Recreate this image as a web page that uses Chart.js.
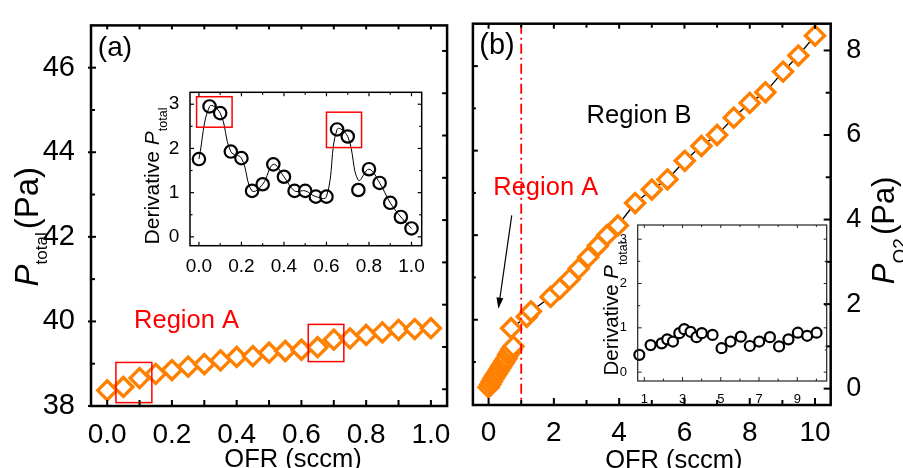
<!DOCTYPE html>
<html>
<head>
<meta charset="utf-8">
<script src="https://cdn.jsdelivr.net/npm/chart.js@4.4.1/dist/chart.umd.min.js"></script>
<style>
  html, body { margin: 0; padding: 0; background: #fff; overflow: hidden; }
  #wrap { position: relative; width: 903px; height: 468px; }
  canvas { position: absolute; }
</style>
</head>
<body>
<div id="wrap">
  <canvas id="mainA" width="460" height="468" style="left:0;top:0"></canvas>
  <canvas id="mainB" width="443" height="468" style="left:460px;top:0"></canvas>
  <canvas id="insetA" width="310" height="200" style="left:130px;top:75px"></canvas>
  <canvas id="insetB" width="260" height="200" style="left:590px;top:205px"></canvas>
</div>
<script>
// panel (a): total pressure, 0-1 sccm
const ofrA = [0, 0.05, 0.1, 0.15, 0.2, 0.25, 0.3, 0.35, 0.4, 0.45, 0.5, 0.55, 0.6, 0.65, 0.7, 0.75, 0.8, 0.85, 0.9, 0.95, 1.0];
const pTotalA = [38.37, 38.45, 38.66, 38.76, 38.85, 38.93, 38.99, 39.08, 39.16, 39.18, 39.26, 39.30, 39.33, 39.39, 39.57, 39.60, 39.68, 39.74, 39.80, 39.82, 39.84];

// inset (a): derivative of P_total (points + smoothed guide line)
const derivA = [1.76, 2.95, 2.80, 1.93, 1.78, 1.04, 1.19, 1.64, 1.36, 1.04, 1.04, 0.91, 0.91, 2.43, 2.27, 1.06, 1.53, 1.22, 0.77, 0.45, 0.19];
const derivCurveA = [1.76, 2.95, 2.80, 1.93, 1.78, 1.04, 1.19, 1.64, 1.36, 1.04, 1.04, 0.91, 0.91, 2.43, 2.27, 1.28, 1.53, 1.22, 0.77, 0.45, 0.19];

// panel (b): O2 partial pressure, 0-10 sccm
const ofrB = [0, 0.05, 0.1, 0.15, 0.2, 0.25, 0.3, 0.35, 0.4, 0.45, 0.5, 0.55, 0.6, 0.65, 0.7, 0.76, 0.69, 1.17, 1.3, 1.9, 2.18, 2.48, 2.76, 3.05, 3.35, 3.63, 3.96, 4.49, 5.0, 5.48, 6.01, 6.52, 7.0, 7.51, 8.0, 8.48, 9.02, 9.49, 10.0];
const pO2B = [0.03, 0.10, 0.17, 0.24, 0.30, 0.36, 0.42, 0.48, 0.54, 0.60, 0.66, 0.72, 0.80, 0.86, 0.93, 1.00, 1.43, 1.70, 1.83, 2.17, 2.36, 2.59, 2.84, 3.11, 3.38, 3.63, 3.86, 4.39, 4.71, 4.95, 5.39, 5.74, 6.00, 6.41, 6.76, 7.01, 7.50, 7.88, 8.35];

// inset (b): derivative in region B
const ofrInsetB = [0.74, 1.33, 1.91, 2.2, 2.5, 2.83, 3.09, 3.42, 3.73, 4.01, 4.57, 5.04, 5.51, 6.05, 6.52, 7.01, 7.57, 8.05, 8.54, 9.03, 9.52, 10.01];
const derivB = [0.39, 0.61, 0.65, 0.74, 0.69, 0.88, 0.97, 0.91, 0.79, 0.88, 0.84, 0.54, 0.69, 0.80, 0.59, 0.69, 0.79, 0.58, 0.74, 0.89, 0.82, 0.89];

// ticks and labels
const xTicksA = [0, 0.1, 0.2, 0.3, 0.4, 0.5, 0.6, 0.7, 0.8, 0.9, 1.0];
const xLabelsA = [0, 0.2, 0.4, 0.6, 0.8, 1.0];
const yTicksA = [38, 39, 40, 41, 42, 43, 44, 45, 46];
const yLabelsA = [38, 40, 42, 44, 46];
const yRightTicksA = [38, 39, 40, 41, 42, 43, 44, 45, 46];
const yTicksInset = [0, 0.5, 1, 1.5, 2, 2.5, 3];
const yLabelsInset = [0, 1, 2, 3];
const xTicksB = [0, 1, 2, 3, 4, 5, 6, 7, 8, 9, 10];
const xLabelsB = [0, 2, 4, 6, 8, 10];
const yTicksB = [0, 1, 2, 3, 4, 5, 6, 7, 8];
const yLabelsB = [0, 2, 4, 6, 8];
const yLeftTicksB = [1, 2, 3, 4, 5, 6, 7, 8];
const xTicksInsetB = [1, 2, 3, 4, 5, 6, 7, 8, 9, 10];
const xLabelsInsetB = [1, 3, 5, 7, 9];

// highlight boxes [x0, x1, y0, y1] in data units
const boxesA = [[0.027, 0.138, 38.08, 39.03], [0.621, 0.731, 39.05, 39.93]];
const boxesInsetA = [[-0.011, 0.156, 2.48, 3.17], [0.6, 0.765, 2.02, 2.82]];

const ORANGE = '#ff8000';
const RED = '#ff0000';
const FONT = '"Liberation Sans", Arial, Helvetica, sans-serif';
Chart.defaults.font.family = FONT;
Chart.defaults.color = '#000';

const pts = (xs, ys) => xs.map((x, i) => ({ x, y: ys[i] }));
const fontStr = (size, italic) => (italic ? 'italic ' : '') + size + 'px ' + FONT;

function axis(o) {
  return {
    type: 'linear', position: o.pos, min: o.min, max: o.max, bounds: 'data',
    grid: { display: false }, border: { display: false },
    ticks: {
      display: !!o.labels, font: { size: o.size || 12 }, padding: o.pad || 0,
      autoSkip: false, maxRotation: 0, color: '#000',
      callback: v => (o.labels && o.labels.includes(v)) ? (o.fmt ? o.fmt(v) : String(v)) : ''
    },
    afterBuildTicks: s => { s.ticks = o.ticks.map(v => ({ value: v })); },
    afterFit: s => {
      if (o.w !== undefined) s.width = o.w;
      if (o.h !== undefined) s.height = o.h;
    }
  };
}

function drawRich(ctx, parts, x, y, rot) {
  ctx.save();
  ctx.translate(x, y);
  ctx.rotate(rot);
  const widths = parts.map(p => {
    if (!p.t) return p.gap;
    ctx.font = fontStr(p.size, p.italic);
    return ctx.measureText(p.t).width;
  });
  let cx = -widths.reduce((a, b) => a + b, 0) / 2;
  ctx.textAlign = 'left';
  ctx.textBaseline = 'alphabetic';
  ctx.fillStyle = '#000';
  parts.forEach((p, i) => {
    if (p.t) {
      ctx.font = fontStr(p.size, p.italic);
      ctx.fillText(p.t, cx, p.dy || 0);
    }
    cx += widths[i];
  });
  ctx.restore();
}

// frame, tick marks, boxes, lines and text drawn on top of the data
function deco(cfg) {
  return {
    id: 'deco',
    afterDatasetsDraw(chart) {
      const ctx = chart.ctx, a = chart.chartArea;
      const sx = chart.scales.x, sy = chart.scales.y;
      ctx.save();

      if (cfg.vline) {
        const px = sx.getPixelForValue(cfg.vline.x);
        ctx.strokeStyle = RED;
        ctx.lineWidth = 1.8;
        ctx.setLineDash([10, 4, 2, 4]);
        ctx.beginPath();
        ctx.moveTo(px, a.top);
        ctx.lineTo(px, a.bottom);
        ctx.stroke();
        ctx.setLineDash([]);
      }

      (cfg.boxes || []).forEach(b => {
        const x0 = sx.getPixelForValue(b[0]), x1 = sx.getPixelForValue(b[1]);
        const y0 = sy.getPixelForValue(b[2]), y1 = sy.getPixelForValue(b[3]);
        ctx.strokeStyle = RED;
        ctx.lineWidth = 1.5;
        ctx.strokeRect(x0, y1, x1 - x0, y0 - y1);
      });

      if (cfg.arrow) {
        const [ax0, ay0, ax1, ay1] = cfg.arrow;
        const x0 = sx.getPixelForValue(ax0), y0 = sy.getPixelForValue(ay0);
        const x1 = sx.getPixelForValue(ax1), y1 = sy.getPixelForValue(ay1);
        const ang = Math.atan2(y1 - y0, x1 - x0);
        const hl = 11, hw = 3.5;
        ctx.strokeStyle = '#000';
        ctx.fillStyle = '#000';
        ctx.lineWidth = 1.2;
        ctx.beginPath();
        ctx.moveTo(x0, y0);
        ctx.lineTo(x1 - Math.cos(ang) * hl * 0.8, y1 - Math.sin(ang) * hl * 0.8);
        ctx.stroke();
        ctx.beginPath();
        ctx.moveTo(x1, y1);
        ctx.lineTo(x1 - Math.cos(ang) * hl - Math.sin(ang) * hw, y1 - Math.sin(ang) * hl + Math.cos(ang) * hw);
        ctx.lineTo(x1 - Math.cos(ang) * hl + Math.sin(ang) * hw, y1 - Math.sin(ang) * hl - Math.cos(ang) * hw);
        ctx.closePath();
        ctx.fill();
      }

      ctx.strokeStyle = cfg.frameColor || '#000';
      ctx.lineWidth = cfg.frame;
      ctx.strokeRect(a.left, a.top, a.right - a.left, a.bottom - a.top);

      ctx.lineWidth = cfg.tickWidth;
      cfg.ticks.forEach(t => {
        const s = chart.scales[t.scale];
        s.ticks.forEach(tk => {
          const major = t.every ? tk.value % t.every === 0 : tk.label !== '';
          const len = major ? t.major : t.minor;
          const out = major ? (t.out || 0) : 0;
          const p = s.getPixelForValue(tk.value);
          ctx.beginPath();
          if (t.side === 'bottom') { ctx.moveTo(p, a.bottom + out); ctx.lineTo(p, a.bottom - len); }
          if (t.side === 'top') { ctx.moveTo(p, a.top - out); ctx.lineTo(p, a.top + len); }
          if (t.side === 'left') { ctx.moveTo(a.left - out, p); ctx.lineTo(a.left + len, p); }
          if (t.side === 'right') { ctx.moveTo(a.right + out, p); ctx.lineTo(a.right - len, p); }
          ctx.stroke();
        });
      });

      (cfg.texts || []).forEach(t => {
        ctx.font = fontStr(t.size);
        ctx.fillStyle = t.color || '#000';
        ctx.textAlign = 'center';
        ctx.textBaseline = 'middle';
        ctx.fillText(t.text, sx.getPixelForValue(t.x), sy.getPixelForValue(t.y));
      });

      const midY = (a.top + a.bottom) / 2;
      (cfg.titles || []).forEach(t => {
        let x, y;
        if (t.ref === 'left') { x = a.left + t.dx; y = midY + t.dy; }
        if (t.ref === 'right') { x = a.right + t.dx; y = midY + t.dy; }
        if (t.ref === 'bottom') { x = a.left + t.dx; y = a.bottom + t.dy; }
        drawRich(ctx, t.parts, x, y, t.rot || 0);
      });

      ctx.restore();
    }
  };
}

const common = {
  responsive: false,
  animation: false,
  devicePixelRatio: 1,
  plugins: { legend: { display: false }, tooltip: { enabled: false } }
};

const ofrTitle = [{ t: 'OFR (sccm)', size: 25.5 }];

// ---- panel (a)
new Chart(document.getElementById('mainA'), {
  type: 'scatter',
  data: {
    datasets: [{
      data: pts(ofrA, pTotalA), showLine: false, clip: false,
      pointStyle: 'rectRot', pointRadius: 9.5, pointBorderWidth: 3.4,
      pointBorderColor: ORANGE, pointBackgroundColor: '#fff'
    }]
  },
  options: {
    ...common,
    layout: { padding: { top: 17, left: 0, right: 0, bottom: 0 } },
    scales: {
      x: axis({ pos: 'bottom', min: -0.05, max: 1.05, ticks: xTicksA, labels: xLabelsA, fmt: v => v.toFixed(1), size: 28, pad: 4, h: 62 }),
      y: axis({ pos: 'left', min: 38, max: 47, ticks: yTicksA, labels: yLabelsA, size: 29, pad: 8, w: 91 }),
      yr: axis({ pos: 'right', min: 37.604, max: 46.604, ticks: yRightTicksA, w: 9 })
    }
  },
  plugins: [deco({
    frame: 2.5, tickWidth: 2,
    ticks: [
      { scale: 'x', side: 'bottom', major: 6, minor: 6 },
      { scale: 'x', side: 'top', major: 4, minor: 4 },
      { scale: 'y', side: 'left', major: 5, minor: 4, out: 3 },
      { scale: 'yr', side: 'right', major: 5, minor: 5, every: 1 }
    ],
    boxes: boxesA,
    texts: [
      { text: '(a)', x: 0.024, y: 46.45, size: 28 },
      { text: 'Region A', x: 0.245, y: 40.0, size: 25.5, color: RED }
    ],
    titles: [
      { ref: 'left', dx: -53, dy: 11, rot: -Math.PI / 2,
        parts: [{ t: 'P', size: 33, italic: true }, { t: 'total', size: 17, dy: 9 }, { gap: 3 }, { t: '(Pa)', size: 33 }] },
      { ref: 'bottom', dx: 202, dy: 60.6, parts: ofrTitle }
    ]
  })]
});

// ---- inset (a)
new Chart(document.getElementById('insetA'), {
  type: 'scatter',
  data: {
    datasets: [
      { data: pts(ofrA, derivCurveA), showLine: true, pointRadius: 0, borderColor: '#000', borderWidth: 1, tension: 0.4, clip: false },
      { data: pts(ofrA, derivA), showLine: false, pointStyle: 'circle', pointRadius: 6.2, pointBorderWidth: 2.2,
        pointBorderColor: '#000', pointBackgroundColor: '#fff', clip: false }
    ]
  },
  options: {
    ...common,
    layout: { padding: { top: 17.3, right: 18.3, left: 0, bottom: 0 } },
    scales: {
      x: axis({ pos: 'bottom', min: -0.042, max: 1.048, ticks: xTicksA, labels: xLabelsA, fmt: v => v.toFixed(1), size: 19, pad: 1.2, h: 29.3 }),
      y: axis({ pos: 'left', min: -0.2, max: 3.27, ticks: yTicksInset, labels: yLabelsInset, size: 19, pad: 2.7, w: 60 })
    }
  },
  plugins: [deco({
    frame: 1.5, tickWidth: 1.2,
    ticks: [
      { scale: 'x', side: 'bottom', major: 4, minor: 2.5 },
      { scale: 'x', side: 'top', major: 4, minor: 2.5 },
      { scale: 'y', side: 'left', major: 4, minor: 2.5 },
      { scale: 'y', side: 'right', major: 4, minor: 2.5 }
    ],
    boxes: boxesInsetA,
    titles: [
      { ref: 'left', dx: -31, dy: 7, rot: -Math.PI / 2,
        parts: [{ t: 'Derivative ', size: 21 }, { t: 'P', size: 21, italic: true }, { t: 'total', size: 12.5, dy: 8 }] }
    ]
  })]
});

// ---- panel (b)
new Chart(document.getElementById('mainB'), {
  type: 'scatter',
  data: {
    datasets: [{
      data: pts(ofrB, pO2B), showLine: true, borderColor: '#000', borderWidth: 1.3, clip: false,
      pointStyle: 'rectRot', pointRadius: 9.5, pointBorderWidth: 3.4,
      pointBorderColor: ORANGE, pointBackgroundColor: '#fff'
    }]
  },
  options: {
    ...common,
    layout: { padding: { top: 15.7, left: 0, right: 0, bottom: 0 } },
    scales: {
      x: axis({ pos: 'bottom', min: -0.48, max: 10.48, ticks: xTicksB, labels: xLabelsB, size: 28, pad: 3, h: 63 }),
      y: axis({ pos: 'right', min: -0.387, max: 8.633, ticks: yTicksB, labels: yLabelsB, size: 27, pad: 7.5, w: 72.3 }),
      yl: axis({ pos: 'left', min: -0.017, max: 9.003, ticks: yLeftTicksB, w: 11 })
    }
  },
  plugins: [deco({
    frame: 2.5, tickWidth: 2,
    ticks: [
      { scale: 'x', side: 'bottom', major: 7, minor: 5 },
      { scale: 'x', side: 'top', major: 5, minor: 4 },
      { scale: 'y', side: 'right', major: 7, minor: 5 },
      { scale: 'yl', side: 'left', major: 5, minor: 3, every: 2 }
    ],
    vline: { x: 1 },
    arrow: [0.71, 4.1, 0.30, 1.89],
    texts: [
      { text: '(b)', x: 0.26, y: 8.11, size: 29 },
      { text: 'Region B', x: 4.61, y: 6.44, size: 25.5 },
      { text: 'Region A', x: 1.75, y: 4.74, size: 25.5, color: RED }
    ],
    titles: [
      { ref: 'right', dx: 63.3, dy: 16, rot: -Math.PI / 2,
        parts: [{ t: 'P', size: 31, italic: true }, { t: 'O2', size: 19, dy: 12 }, { gap: 3 }, { t: '(Pa)', size: 31 }] },
      { ref: 'bottom', dx: 201, dy: 63.3, parts: ofrTitle }
    ]
  })]
});

// ---- inset (b)
new Chart(document.getElementById('insetB'), {
  type: 'scatter',
  data: {
    datasets: [{
      data: pts(ofrInsetB, derivB), showLine: false, pointStyle: 'circle', pointRadius: 5, pointBorderWidth: 2.2,
      pointBorderColor: '#000', pointBackgroundColor: '#fff', clip: false
    }]
  },
  options: {
    ...common,
    layout: { padding: { top: 20, right: 23.3, left: 0, bottom: 0 } },
    scales: {
      x: axis({ pos: 'bottom', min: 0.655, max: 10.54, ticks: xTicksInsetB, labels: xLabelsInsetB, size: 13, pad: 2.9, h: 24 }),
      y: axis({ pos: 'left', min: -0.2, max: 3.32, ticks: yTicksInset, labels: yLabelsInset, size: 13, pad: 2.7, w: 47.7 })
    }
  },
  plugins: [deco({
    frame: 1.2, frameColor: '#222', tickWidth: 1,
    ticks: [
      { scale: 'x', side: 'bottom', major: 4, minor: 2.5 },
      { scale: 'x', side: 'top', major: 3, minor: 2 },
      { scale: 'y', side: 'left', major: 4, minor: 2.5 },
      { scale: 'y', side: 'right', major: 3, minor: 2 }
    ],
    titles: [
      { ref: 'left', dx: -19.7, dy: 5.5, rot: -Math.PI / 2,
        parts: [{ t: 'Derivative ', size: 20.5 }, { t: 'P', size: 20.5, italic: true }, { t: 'total', size: 12.5, dy: 9 }] }
    ]
  })]
});
</script>
</body>
</html>
